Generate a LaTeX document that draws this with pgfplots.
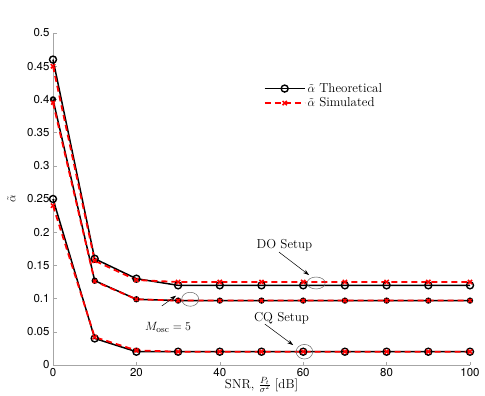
\documentclass[border=0pt]{standalone}
\usepackage{fontspec}
\usepackage{pgfplots}
\pgfplotsset{compat=1.18}
\usetikzlibrary{arrows.meta}
\newfontfamily\ticksf{TeX Gyre Heros}
\begin{document}
\begin{tikzpicture}
\begin{axis}[
  scale only axis,
  width=417bp, height=332bp,
  xmin=0, xmax=100, ymin=0, ymax=0.5,
  axis x line*=bottom, axis y line*=left,
  axis line style={gray!70, line width=0.8bp},
  tick style={gray!70, line width=0.6bp},
  major tick length=3.5bp,
  tick align=inside,
  xtick={0,20,40,60,80,100},
  ytick={0,0.05,0.1,0.15,0.2,0.25,0.3,0.35,0.4,0.45,0.5},
  yticklabels={0,0.05,0.1,0.15,0.2,0.25,0.3,0.35,0.4,0.45,0.5},
  tick label style={font=\ticksf\fontsize{11.5}{13}\selectfont},
  /pgf/number format/assume math mode=true,
  xlabel={SNR, $\frac{P_t}{\sigma^2}$ [dB]},
  ylabel={$\tilde{\alpha}$},
  label style={font=\fontsize{13}{15}\selectfont},
  xlabel style={at={(axis description cs:0.5,0)}, anchor=north, yshift=-9bp},
  ylabel style={at={(axis description cs:0,0.5)}, anchor=south, yshift=34bp},
  legend style={draw=none, fill=none, at={(0.505,0.855)}, anchor=north west,
    font=\fontsize{13}{15}\selectfont, row sep=0bp, inner sep=0bp},
  legend cell align=left,
  legend image code/.code={\draw[mark repeat=2,mark phase=2] plot coordinates {(0bp,0bp)(20bp,0bp)(40bp,0bp)};},
  clip=false,
]
% DO setup
\addplot[black, line width=1.5bp, mark=o, mark size=3.5bp, mark options={solid, line width=1.4bp}]
 coordinates {(0,0.46)(10,0.16)(20,0.13)(30,0.12)(40,0.12)(50,0.12)(60,0.12)(70,0.12)(80,0.12)(90,0.12)(100,0.12)};
\addlegendentry{$\tilde{\alpha}$ Theoretical}
\addplot[red, line width=1.8bp, dash pattern=on 6bp off 4bp, mark=x, mark size=3bp, mark options={solid, line width=1.5bp}]
 coordinates {(0,0.45)(10,0.157)(20,0.128)(30,0.125)(40,0.125)(50,0.125)(60,0.125)(70,0.125)(80,0.125)(90,0.125)(100,0.125)};
\addlegendentry{$\tilde{\alpha}$ Simulated}
% Mosc = 5
\addplot[black, line width=1.5bp, mark=o, mark size=2.2bp, mark options={solid, line width=1.8bp}, forget plot]
 coordinates {(0,0.40)(10,0.127)(20,0.099)(30,0.097)(40,0.097)(50,0.097)(60,0.097)(70,0.097)(80,0.097)(90,0.097)(100,0.097)};
\addplot[red, line width=1.8bp, dash pattern=on 6bp off 4bp, mark=x, mark size=2.5bp, mark options={solid, line width=1.5bp}, forget plot]
 coordinates {(0,0.395)(10,0.126)(20,0.099)(30,0.097)(40,0.097)(50,0.097)(60,0.097)(70,0.097)(80,0.097)(90,0.097)(100,0.097)};
% CQ setup
\addplot[black, line width=1.5bp, mark=o, mark size=3.5bp, mark options={solid, line width=1.4bp}, forget plot]
 coordinates {(0,0.25)(10,0.04)(20,0.02)(30,0.02)(40,0.02)(50,0.02)(60,0.02)(70,0.02)(80,0.02)(90,0.02)(100,0.02)};
\addplot[red, line width=1.8bp, dash pattern=on 6bp off 4bp, mark=x, mark size=3bp, mark options={solid, line width=1.5bp}, forget plot]
 coordinates {(0,0.24)(10,0.042)(20,0.022)(30,0.02)(40,0.02)(50,0.02)(60,0.02)(70,0.02)(80,0.02)(90,0.02)(100,0.02)};
% annotations
\draw[gray!80!black, line width=0.5bp] (axis cs:63.1,0.1235) ellipse [x radius=9bp, y radius=6bp];
\draw[gray!80!black, line width=0.5bp] (axis cs:32.9,0.099) ellipse [x radius=8.5bp, y radius=7bp];
\draw[gray!80!black, line width=0.5bp] (axis cs:60.3,0.020) ellipse [x radius=8.3bp, y radius=7.3bp];
\draw[-{Stealth[length=6bp,width=4bp]}, line width=0.5bp] (axis cs:54.2,0.170) -- (axis cs:61.4,0.1355);
\draw[-{Stealth[length=6bp,width=4bp]}, line width=0.5bp] (axis cs:26.1,0.0889) -- (axis cs:29.5,0.1044);
\draw[-{Stealth[length=6bp,width=4bp]}, line width=0.5bp] (axis cs:50.8,0.0617) -- (axis cs:57.6,0.030);
\node[font=\fontsize{13}{15}\selectfont] at (axis cs:55.5,0.180) {DO Setup};
\node[font=\fontsize{13}{15}\selectfont] at (axis cs:27.6,0.0565) {$M_{\mathrm{osc}}=5$};
\node[font=\fontsize{13}{15}\selectfont] at (axis cs:54.8,0.0712) {CQ Setup};
\end{axis}
\path[use as bounding box] ([shift={(-53bp,-29bp)}]current axis.south west) rectangle ([shift={(15bp,33bp)}]current axis.north east);
\end{tikzpicture}
\end{document}
